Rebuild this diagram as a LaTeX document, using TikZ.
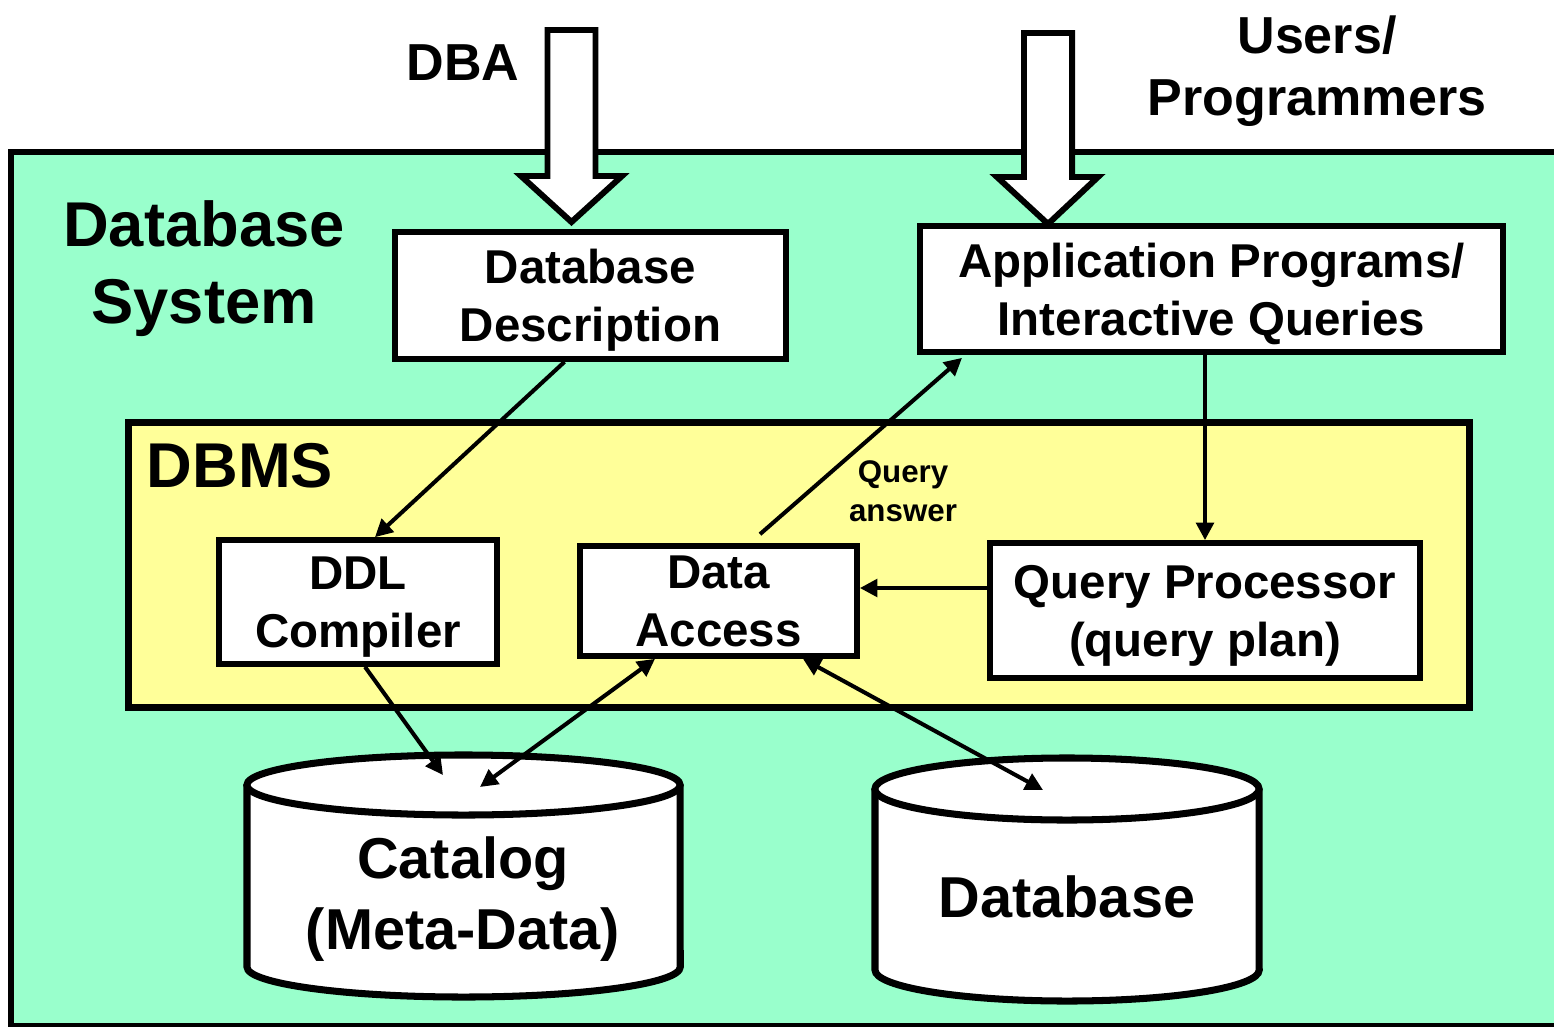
\documentclass[tikz,border=0pt]{standalone}
\usepackage{fontspec}
\setmainfont{Liberation Sans}
\usepackage{xcolor}
\usepackage{tikz}
\usetikzlibrary{calc,arrows.meta}
\usetikzlibrary{positioning}
\definecolor{sysgreen}{HTML}{99FFCC}
\definecolor{dbmsyellow}{HTML}{FFFF99}
\tikzset{
	rectnode/.style={rectangle, draw=black, fill=white, line width=1.6pt, inner sep=0pt, align=center, text depth=0pt, font=\fontsize{13.5}{16.5}\selectfont\bfseries},
	dbmsnode/.style={rectangle, draw=black, fill=dbmsyellow, line width=2pt}
}
\tikzset{
	bigtext/.style={align=center, text depth=0pt, font=\fontsize{18}{22}\selectfont\bfseries},
	usertext/.style={align=center, text depth=0pt, font=\fontsize{14.8}{17.6}\selectfont\bfseries},
	cyltext/.style={align=center, text depth=0pt, font=\fontsize{16.4}{20.2}\selectfont\bfseries},
	smalltext/.style={align=center, font=\fontsize{8.9}{11.1}\selectfont\bfseries},
	blockarrow/.style={draw=black, fill=white, line width=1.7pt, line join=miter},
	cyl/.style={draw=black, fill=white, line width=2pt},
	conn/.style={-{Triangle[length=5pt,width=5pt]}, line width=1.15pt},
	dconn/.style={{Triangle[length=5pt,width=5pt]}-{Triangle[length=5pt,width=5pt]}, line width=1.15pt}
}

\begin{document}
\begin{tikzpicture}[x=0.01cm, y=0.01cm]
		\path[use as bounding box] (0,0) rectangle (1554,1026);
		\clip (0,0) rectangle (1554,1026);
		\fill[white] (0,0) rectangle (1554,1026);
		\draw[fill=sysgreen, line width=1.5pt] (11,874) rectangle (1600,0);
		
		\node[dbmsnode, minimum width=13.4cm, minimum height=2.84cm] at (799,461) (dbms) {};
		
		%big arrows in
		\draw[blockarrow] (547.5,996) -- (547.5,850) -- (521,850) -- (571.5,804) -- (622,850) -- (595.5,850) -- (595.5,996) -- cycle;
		\draw[blockarrow] (1024,993) -- (1024,849) -- (997,849) -- (1048,802) -- (1098,849) -- (1072,849) -- (1072,993) -- cycle;
		
		\node[usertext] at (463,963) (dbalabel) {DBA};
		\node[usertext] at (1317,960) (userslabel) {Users/\\Programmers};
		\node[bigtext] at (204,764) (syslabel) {Database\\System};
		\node[bigtext] at (240,561) (dbmslabel) {DBMS};
		\node[smalltext] at (903,535) (answerlabel) {Query\\answer};
		
		\node[rectnode, minimum width=3.91cm, minimum height=1.27cm] at (590.5,730.5) (descr) {Database\\Description};
		\node[rectnode, minimum width=5.83cm, minimum height=1.26cm] at (1211.5,737) (app) {Application Programs/\\Interactive Queries};
		\node[rectnode, minimum width=2.78cm, minimum height=1.24cm] at (358,424) (ddl) {DDL\\Compiler};
		\node[rectnode, minimum width=2.77cm, minimum height=1.1cm] at (718.5,425) (access) {Data\\Access};
		\node[rectnode, minimum width=4.3cm, minimum height=1.35cm] at (1205,415.5) (qproc) {Query Processor\\(query plan)};
		
		%Cylinders
		\coordinate (cattop) at (463.5,241);
		\draw[cyl] (247,241) -- (247,59) arc[start angle=180, end angle=360, x radius=2.165cm, y radius=0.3cm] -- (680,241);
		\draw[cyl] (cattop) ellipse [x radius=2.165cm, y radius=0.3cm];
		\node[cyltext] at (463,133) (catalog) {Catalog\\(Meta-Data)};
		
		\coordinate (dbtop) at (1067,237);
		\draw[cyl] (875,237) -- (875,56) arc[start angle=180, end angle=360, x radius=1.92cm, y radius=0.31cm] -- (1259,237);
		\draw[cyl] (dbtop) ellipse [x radius=1.92cm, y radius=0.31cm];
		\node[cyltext] at (1067,129) (database) {Database};
		
		%Lines
		\draw[conn] ($(descr.south)+(-26,0)$) -- ($(ddl.north)+(17,0)$);
		\draw[conn] ($(access.north)+(41.5,9)$) -- ($(app.south west)+(45,-3)$);
		\draw[conn] (qproc.north |- app.south) -- (qproc.north);
		\draw[conn] ($(qproc.west)+(0,22.5)$) coordinate (qp) -- (access.east |- qp);
		\draw[conn] ($(ddl.south)+(7,0)$) -- ($(cattop)+(-20.5,10)$);
		\draw[dconn] ($(cattop)+(16.5,-2)$) -- ($(access.south)+(-63.5,0)$);
		\draw[dconn] ($(access.south)+(84.5,0)$) -- ($(dbtop)+(-24,-1)$);
	\end{tikzpicture}
\end{document}
